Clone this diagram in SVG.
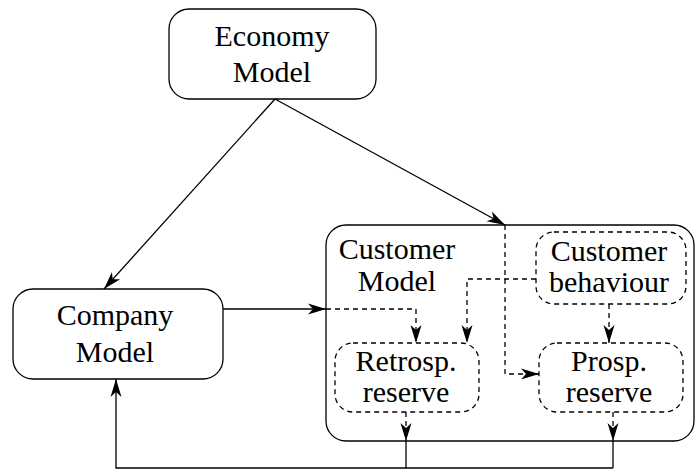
<svg xmlns="http://www.w3.org/2000/svg" width="699" height="473" viewBox="0 0 699 473">
  <defs>
    <marker id="arrow" markerUnits="userSpaceOnUse" markerWidth="22" markerHeight="14" viewBox="-19 -7 21 14" refX="0" refY="0" orient="auto" overflow="visible">
      <path d="M0,0 L-18,-5.5 L-13,0 L-18,5.5 Z" fill="#000" stroke="none"/>
    </marker>
  </defs>
  <style>
    .box { fill: #fff; stroke: #000; stroke-width: 1.3; }
    .dbox { fill: none; stroke: #000; stroke-width: 1.3; stroke-dasharray: 5 4; }
    .line { fill: none; stroke: #000; stroke-width: 1.3; }
    .dash { fill: none; stroke: #000; stroke-width: 1.3; stroke-dasharray: 5 4; }
    text { font-family: "Liberation Serif", "Times New Roman", serif; font-size: 30px; fill: #000; text-anchor: middle; }
  </style>
  <rect width="699" height="473" fill="#fff"/>

  <!-- Nodes -->
  <g id="economy-model">
    <rect class="box" x="169" y="9" width="207" height="90" rx="20" ry="20"/>
    <text x="272" y="46">Economy</text>
    <text x="272" y="82">Model</text>
  </g>

  <g id="company-model">
    <rect class="box" x="13" y="289" width="210" height="90" rx="20" ry="20"/>
    <text x="115" y="325">Company</text>
    <text x="115" y="362">Model</text>
  </g>

  <g id="customer-model">
    <rect class="box" x="326" y="225" width="368" height="216" rx="20" ry="20"/>
    <text x="397" y="259">Customer</text>
    <text x="397" y="291">Model</text>
  </g>

  <g id="customer-behaviour">
    <rect class="dbox" x="536" y="232" width="150" height="72" rx="18" ry="18"/>
    <text x="609" y="261">Customer</text>
    <text x="609" y="292">behaviour</text>
  </g>

  <g id="retrosp-reserve">
    <rect class="dbox" x="335" y="343" width="144" height="69" rx="18" ry="18"/>
    <text x="406" y="371">Retrosp.</text>
    <text x="406" y="402">reserve</text>
  </g>

  <g id="prosp-reserve">
    <rect class="dbox" x="539" y="343" width="144" height="69" rx="18" ry="18"/>
    <text x="609" y="371">Prosp.</text>
    <text x="609" y="402">reserve</text>
  </g>

  <!-- Connectors -->
  <g id="connectors">
    <line class="line" x1="275" y1="99" x2="104" y2="289" marker-end="url(#arrow)"/>
    <line class="line" x1="275" y1="99" x2="505" y2="225" marker-end="url(#arrow)"/>
    <polyline class="dash" points="505,225 505,374 539,374" marker-end="url(#arrow)"/>
    <line class="line" x1="223" y1="309" x2="326" y2="309" marker-end="url(#arrow)"/>
    <polyline class="dash" points="326,309 416,309 416,343" marker-end="url(#arrow)"/>
    <polyline class="dash" points="536,279 467,279 467,343" marker-end="url(#arrow)"/>
    <line class="dash" x1="609" y1="304" x2="609" y2="343" marker-end="url(#arrow)"/>
    <line class="dash" x1="406" y1="412" x2="406" y2="441" marker-end="url(#arrow)"/>
    <line class="line" x1="406" y1="441" x2="406" y2="468"/>
    <line class="dash" x1="613" y1="412" x2="613" y2="441" marker-end="url(#arrow)"/>
    <line class="line" x1="613" y1="441" x2="613" y2="468"/>
    <polyline class="line" points="613,468 116,468 116,379" marker-end="url(#arrow)"/>
  </g>
</svg>
